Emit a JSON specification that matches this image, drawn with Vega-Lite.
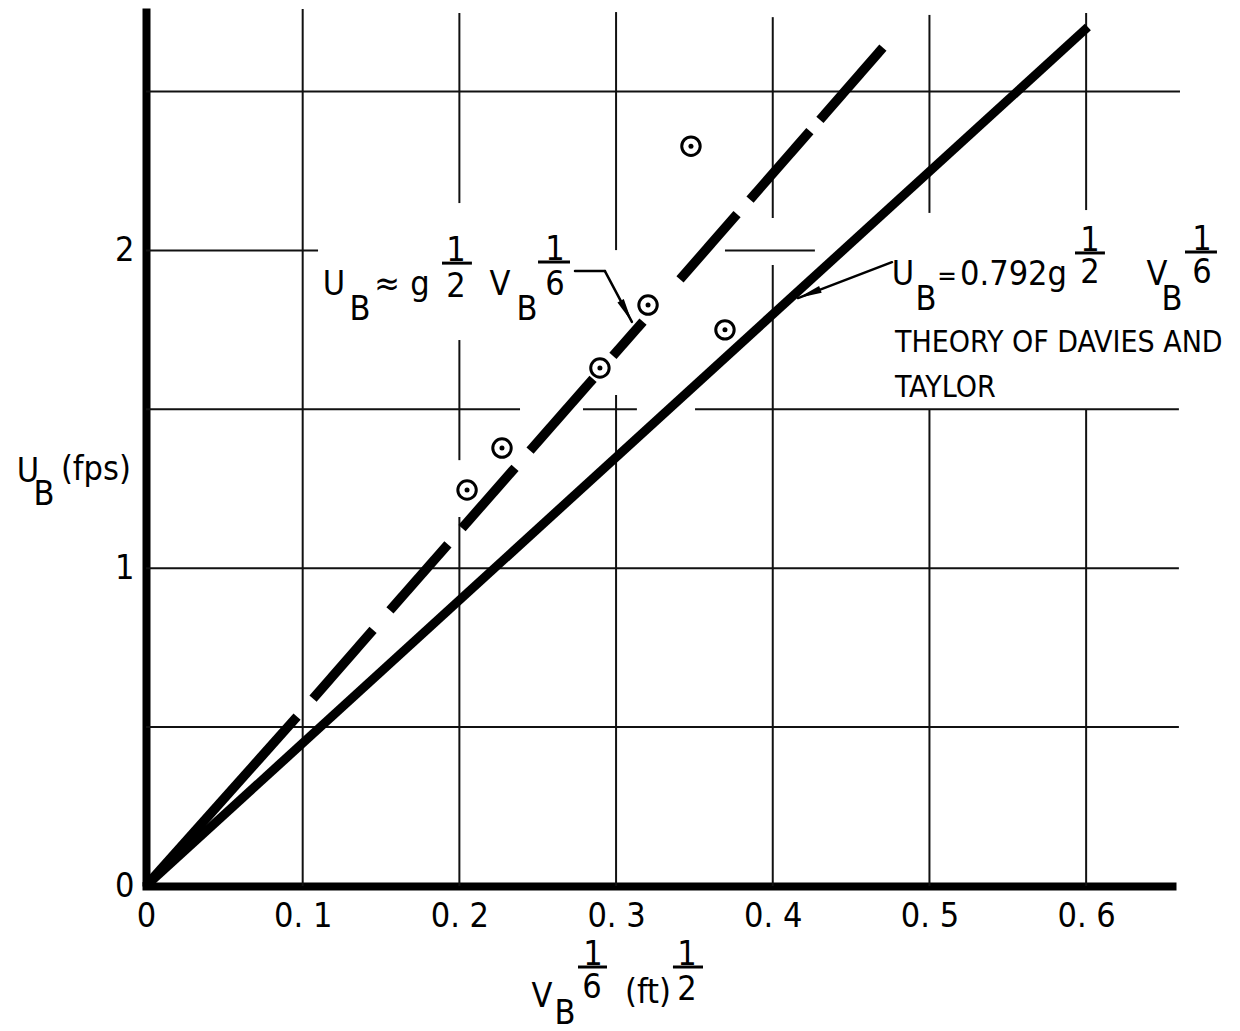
{
  "$schema": "https://vega.github.io/schema/vega-lite/v6.json",
  "width": 1026,
  "height": 878,
  "autosize": {"type": "none"},
  "padding": {"left": 146, "top": 8, "right": 68, "bottom": 145},
  "background": "white",
  "config": {
    "view": {"stroke": null},
    "font": "'DejaVu Sans Condensed', 'DejaVu Sans', sans-serif"
  },
  "datasets": {
    "grid": [
      {"x": 0.1, "x2": 0.1, "y": 0, "y2": 2.76},
      {"x": 0.2, "x2": 0.2, "y": 0, "y2": 1.161},
      {"x": 0.2, "x2": 0.2, "y": 1.34, "y2": 1.718},
      {"x": 0.2, "x2": 0.2, "y": 2.149, "y2": 2.747},
      {"x": 0.3, "x2": 0.3, "y": 0, "y2": 1.545},
      {"x": 0.3, "x2": 0.3, "y": 2.001, "y2": 2.75},
      {"x": 0.4, "x2": 0.4, "y": 0, "y2": 1.954},
      {"x": 0.4, "x2": 0.4, "y": 2.102, "y2": 2.734},
      {"x": 0.5, "x2": 0.5, "y": 0, "y2": 1.498},
      {"x": 0.5, "x2": 0.5, "y": 2.118, "y2": 2.741},
      {"x": 0.6, "x2": 0.6, "y": 0, "y2": 1.498},
      {"x": 0.6, "x2": 0.6, "y": 2.127, "y2": 2.747},
      {"x": 0, "x2": 0.6592, "y": 0.5, "y2": 0.5},
      {"x": 0, "x2": 0.6592, "y": 1, "y2": 1},
      {"x": 0, "x2": 0.2387, "y": 1.5, "y2": 1.5},
      {"x": 0.2789, "x2": 0.3133, "y": 1.5, "y2": 1.5},
      {"x": 0.3504, "x2": 0.6592, "y": 1.5, "y2": 1.5},
      {"x": 0, "x2": 0.1098, "y": 2, "y2": 2},
      {"x": 0.3695, "x2": 0.4269, "y": 2, "y2": 2},
      {"x": 0, "x2": 0.6599, "y": 2.5, "y2": 2.5}
    ],
    "theory": [
      {"x": 0, "y": 0, "x2": 0.6011, "y2": 2.703}
    ],
    "empirical": [
      {"x": 0, "y": 0, "x2": 0.0964, "y2": 0.5327},
      {"x": 0.1066, "y": 0.59, "x2": 0.1449, "y2": 0.806},
      {"x": 0.1557, "y": 0.867, "x2": 0.1927, "y2": 1.075},
      {"x": 0.2017, "y": 1.126, "x2": 0.2355, "y2": 1.316},
      {"x": 0.2451, "y": 1.37, "x2": 0.2853, "y2": 1.596},
      {"x": 0.298, "y": 1.668, "x2": 0.3172, "y2": 1.776},
      {"x": 0.3408, "y": 1.909, "x2": 0.3772, "y2": 2.114},
      {"x": 0.3855, "y": 2.16, "x2": 0.4237, "y2": 2.375},
      {"x": 0.4301, "y": 2.411, "x2": 0.4703, "y2": 2.638}
    ],
    "measured": [
      {"x": 0.2049, "y": 1.246},
      {"x": 0.2272, "y": 1.378},
      {"x": 0.2897, "y": 1.63},
      {"x": 0.3204, "y": 1.828},
      {"x": 0.3478, "y": 2.328},
      {"x": 0.3695, "y": 1.75}
    ],
    "leaders": [
      {"x": 0.2738, "y": 1.935, "x2": 0.2929, "y2": 1.935},
      {"x": 0.2929, "y": 1.935, "x2": 0.3101, "y2": 1.775},
      {"x": 0.4761, "y": 1.963, "x2": 0.4161, "y2": 1.85}
    ],
    "arrowheads": [
      {"arrow": "empirical", "x": 0.3101, "y": 1.775},
      {"arrow": "theory", "x": 0.4161, "y": 1.85}
    ],
    "bars": [
      {"x": 0.1889, "x2": 0.208, "y": 1.96, "y2": 1.96},
      {"x": 0.2502, "x2": 0.2706, "y": 1.9635, "y2": 1.9635},
      {"x": 0.5929, "x2": 0.612, "y": 1.992, "y2": 1.992},
      {"x": 0.6631, "x2": 0.6835, "y": 1.995, "y2": 1.995},
      {"x": 0.2757, "x2": 0.2942, "y": -0.2549, "y2": -0.2549},
      {"x": 0.3363, "x2": 0.3555, "y": -0.2549, "y2": -0.2549}
    ],
    "glyphs": [
      {"t": "U", "x": 0.12, "y": 1.86},
      {"t": "B", "x": 0.1366, "y": 1.781},
      {"t": "≈", "x": 0.1538, "y": 1.86},
      {"t": "g", "x": 0.1749, "y": 1.86},
      {"t": "1", "x": 0.1978, "y": 1.9666},
      {"t": "2", "x": 0.1978, "y": 1.853},
      {"t": "V", "x": 0.2259, "y": 1.86},
      {"t": "B", "x": 0.2431, "y": 1.781},
      {"t": "1", "x": 0.261, "y": 1.9698},
      {"t": "6", "x": 0.261, "y": 1.86},
      {"t": "U", "x": 0.4831, "y": 1.891},
      {"t": "B", "x": 0.4978, "y": 1.8125},
      {"t": "1", "x": 0.6024, "y": 1.998},
      {"t": "2", "x": 0.6024, "y": 1.897},
      {"t": "V", "x": 0.6452, "y": 1.891},
      {"t": "B", "x": 0.6548, "y": 1.8125},
      {"t": "1", "x": 0.6739, "y": 2.001},
      {"t": "6", "x": 0.6739, "y": 1.897},
      {"t": "U", "x": -0.0753, "y": 1.271},
      {"t": "B", "x": -0.0651, "y": 1.199},
      {"t": "V", "x": 0.2527, "y": -0.3807},
      {"t": "B", "x": 0.2674, "y": -0.4342},
      {"t": "1", "x": 0.2853, "y": -0.2486},
      {"t": "6", "x": 0.2846, "y": -0.3524},
      {"t": "(ft)", "x": 0.3204, "y": -0.3682},
      {"t": "1", "x": 0.3452, "y": -0.2486},
      {"t": "2", "x": 0.3452, "y": -0.3587}
    ],
    "formulaLeft": [
      {"t": "0.792g", "x": 0.5195, "y": 1.891},
      {"t": "(fps)", "x": -0.0543, "y": 1.277}
    ],
    "signs": [
      {"t": "=", "x": 0.5112, "y": 1.891}
    ],
    "captions": [
      {"t": "THEORY OF DAVIES AND", "x": 0.478, "y": 1.68},
      {"t": "TAYLOR", "x": 0.478, "y": 1.539}
    ]
  },
  "encoding": {
    "x": {
      "field": "x",
      "type": "quantitative",
      "scale": {"domain": [0, 0.6548], "nice": false, "zero": false},
      "axis": {
        "values": [0, 0.1, 0.2, 0.3, 0.4, 0.5, 0.6],
        "labelExpr": "replace(format(datum.value, '.1~f'), '.', '. ')",
        "title": null,
        "grid": false,
        "ticks": false,
        "tickSize": 0,
        "domainWidth": 8,
        "domainColor": "black",
        "domainCap": "square",
        "labelFontSize": 34,
        "labelColor": "black",
        "labelPadding": 40,
        "labelBaseline": "alphabetic",
        "labelFlush": false,
        "labelOverlap": false
      }
    },
    "y": {
      "field": "y",
      "type": "quantitative",
      "scale": {"domain": [0, 2.7628], "nice": false, "zero": false},
      "axis": {
        "values": [0, 1, 2],
        "format": "d",
        "title": null,
        "grid": false,
        "ticks": false,
        "tickSize": 0,
        "domainWidth": 8,
        "domainColor": "black",
        "labelFontSize": 34,
        "labelColor": "black",
        "labelPadding": 12,
        "labelFlush": false,
        "labelOverlap": false
      }
    }
  },
  "layer": [
    {
      "data": {"name": "grid"},
      "mark": {"type": "rule", "stroke": "#111", "strokeWidth": 2},
      "encoding": {"x2": {"field": "x2"}, "y2": {"field": "y2"}}
    },
    {
      "data": {"name": "theory"},
      "mark": {"type": "rule", "stroke": "black", "strokeWidth": 9, "strokeCap": "butt"},
      "encoding": {"x2": {"field": "x2"}, "y2": {"field": "y2"}}
    },
    {
      "data": {"name": "empirical"},
      "mark": {"type": "rule", "stroke": "black", "strokeWidth": 9.5, "strokeCap": "butt"},
      "encoding": {"x2": {"field": "x2"}, "y2": {"field": "y2"}}
    },
    {
      "data": {"name": "measured"},
      "mark": {"type": "point", "shape": "circle", "size": 340, "filled": true, "fill": "white", "stroke": "black", "strokeWidth": 3, "opacity": 1}
    },
    {
      "data": {"name": "measured"},
      "mark": {"type": "point", "shape": "circle", "size": 25, "filled": true, "fill": "black", "opacity": 1}
    },
    {
      "data": {"name": "leaders"},
      "mark": {"type": "rule", "stroke": "black", "strokeWidth": 2.5, "strokeCap": "round"},
      "encoding": {"x2": {"field": "x2"}, "y2": {"field": "y2"}}
    },
    {
      "data": {"name": "arrowheads"},
      "transform": [{"filter": "datum.arrow === 'empirical'"}],
      "mark": {"type": "point", "shape": "M0,0L-0.24,1.6L0.24,1.6Z", "size": 900, "angle": 152, "filled": true, "fill": "black", "opacity": 1}
    },
    {
      "data": {"name": "arrowheads"},
      "transform": [{"filter": "datum.arrow === 'theory'"}],
      "mark": {"type": "point", "shape": "M0,0L-0.24,1.6L0.24,1.6Z", "size": 900, "angle": 249, "filled": true, "fill": "black", "opacity": 1}
    },
    {
      "data": {"name": "bars"},
      "mark": {"type": "rule", "stroke": "black", "strokeWidth": 3},
      "encoding": {"x2": {"field": "x2"}, "y2": {"field": "y2"}}
    },
    {
      "data": {"name": "glyphs"},
      "mark": {"type": "text", "fontSize": 34, "align": "center", "baseline": "alphabetic", "color": "black"},
      "encoding": {"text": {"field": "t"}}
    },
    {
      "data": {"name": "formulaLeft"},
      "mark": {"type": "text", "fontSize": 34, "align": "left", "baseline": "alphabetic", "color": "black"},
      "encoding": {"text": {"field": "t"}}
    },
    {
      "data": {"name": "signs"},
      "mark": {"type": "text", "fontSize": 26, "align": "center", "baseline": "alphabetic", "color": "black"},
      "encoding": {"text": {"field": "t"}}
    },
    {
      "data": {"name": "captions"},
      "mark": {"type": "text", "fontSize": 30, "align": "left", "baseline": "alphabetic", "color": "black"},
      "encoding": {"text": {"field": "t"}}
    }
  ]
}
